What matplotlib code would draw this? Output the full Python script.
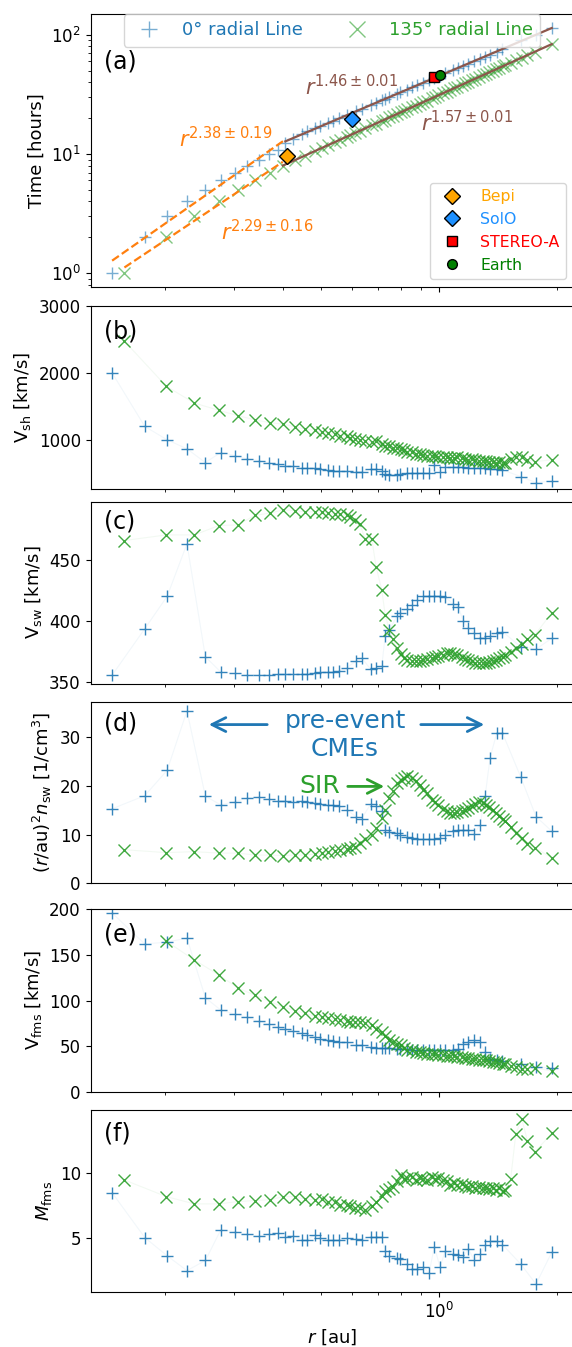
import numpy as np
import matplotlib
matplotlib.use('Agg')
import matplotlib.pyplot as plt

# ---- 0 deg radial line (blue) ----
r_0 = [0.147, 0.178, 0.203, 0.228, 0.254, 0.278, 0.302, 0.325, 0.347, 0.369,
       0.388, 0.406, 0.425, 0.447, 0.462, 0.483, 0.497, 0.522, 0.538, 0.557,
       0.582, 0.614, 0.635, 0.670, 0.691, 0.715, 0.729, 0.747, 0.780, 0.796,
       0.827, 0.852, 0.877, 0.912, 0.943, 0.973, 1.006, 1.036, 1.087, 1.120,
       1.153, 1.187, 1.228, 1.272, 1.310, 1.349, 1.403, 1.450, 1.615, 1.766, 1.937]
t_0 = [1, 2, 3, 4, 5, 6, 7, 8, 9, 10,
       10.8, 12.3, 13.4, 14.6, 15.5, 16.4, 17.1, 18.3, 19.1, 20.0,
       21.3, 22.9, 24.0, 25.9, 27.0, 28.4, 29.1, 30.1, 32.0, 32.9,
       34.7, 36.2, 37.7, 39.8, 41.7, 43.5, 45.6, 47.5, 50.8, 52.9,
       55.1, 57.4, 60.1, 63.1, 65.8, 68.5, 72.4, 75.8, 90.6, 99.6, 113.6]
vsh_0 = [2000, 1200, 1000, 865, 660, 810, 765, 715, 690, 660,
         635, 615, 610, 575, 575, 575, 560, 550, 540, 540,
         540, 525, 525, 560, 560, 540, 490, 475, 475, 490,
         500, 500, 500, 510, 500, 625, 525, 590, 590, 590,
         590, 575, 575, 575, 575, 560, 560, 550, 450, 360, 385]
vsw_0 = [355.7, 393.8, 420.5, 463.7, 370.8, 358.2, 357.1, 356.0, 356.0, 356.0,
         356.3, 356.3, 356.5, 356.8, 357.0, 357.7, 358.0, 358.3, 358.6, 359.4,
         361.8, 367.2, 370.0, 360.4, 361.5, 363.5, 387.7, 392.4, 404.0, 407.0,
         410.0, 413.0, 417.8, 420.5, 421.0, 421.0, 421.0, 420.0, 414.0, 411.8,
         400.0, 394.6, 390.5, 386.3, 386.3, 387.7, 390.5, 391.5, 379.0, 377.0, 386.0]
n_0 = [15.3, 18.0, 23.2, 35.4, 17.9, 16.1, 16.8, 17.5, 17.7, 17.3,
       17.0, 17.0, 16.8, 16.9, 16.7, 16.5, 16.3, 16.1, 16.0, 15.8,
       15.1, 13.7, 13.3, 16.3, 15.8, 14.9, 11.0, 10.6, 10.3, 10.0,
       9.6, 9.3, 9.2, 9.2, 9.2, 9.2, 9.4, 10.0, 10.8, 11.0,
       11.0, 11.0, 10.2, 12.0, 17.9, 25.8, 30.9, 30.9, 21.8, 13.7, 10.7]
vfms_0 = [196, 162, 164, 168.5, 103, 89.5, 85, 81.5, 77, 74,
          71, 68.5, 66.5, 64, 62, 60, 58, 57, 56, 55,
          54, 51, 51, 48.5, 48, 48, 48, 48, 47, 47,
          46.5, 46, 46, 46, 46, 46, 46, 46, 46, 47,
          52, 55, 57, 54, 43, 36, 35, 34, 30, 27, 26]
mfms_0 = [8.5, 5.05, 3.64, 2.5, 3.28, 5.64, 5.5, 5.3, 5.15, 5.35,
          5.38, 5.12, 5.2, 4.87, 4.87, 5.25, 5.0, 4.87, 4.87, 4.87,
          5.0, 4.95, 4.87, 5.12, 5.12, 5.12, 4.02, 3.59, 3.46, 3.4,
          3.0, 2.64, 2.64, 2.77, 2.31, 4.35, 2.74, 4.0, 3.77, 3.67,
          3.55, 4.18, 3.33, 3.77, 4.48, 4.79, 4.79, 4.51, 3.0, 1.46, 3.92]

# ---- 135 deg radial line (green) ----
r_135 = [0.158, 0.202, 0.238, 0.275, 0.308, 0.339, 0.371, 0.400, 0.430, 0.456,
         0.483, 0.503, 0.522, 0.543, 0.560, 0.582, 0.593, 0.611, 0.629, 0.648,
         0.674, 0.691, 0.715, 0.729, 0.747, 0.762, 0.780, 0.799, 0.814, 0.830,
         0.852, 0.872, 0.895, 0.912, 0.930, 0.958, 0.977, 0.996, 1.022, 1.046,
         1.067, 1.092, 1.113, 1.142, 1.165, 1.187, 1.211, 1.235, 1.266, 1.292,
         1.317, 1.343, 1.370, 1.397, 1.424, 1.453, 1.473, 1.522, 1.568, 1.624,
         1.679, 1.756, 1.937]
t_135 = [1, 2, 3, 4, 5, 6, 7, 8, 9, 9.7,
         10.6, 11.2, 11.9, 12.6, 13.2, 14.0, 14.4, 15.0, 15.7, 16.4,
         17.4, 18.0, 19.0, 19.5, 20.3, 20.9, 21.6, 22.4, 23.0, 23.7,
         24.7, 25.5, 26.5, 27.3, 28.1, 29.4, 30.2, 31.1, 32.3, 33.5,
         34.5, 35.7, 36.7, 38.1, 39.3, 40.4, 41.6, 42.9, 44.5, 45.8,
         47.2, 48.6, 50.0, 51.5, 53.0, 54.6, 55.7, 58.5, 61.2, 64.5,
         67.7, 72.4, 83.4]
vsh_135 = [2475, 1800, 1550, 1440, 1360, 1300, 1255, 1235, 1195, 1160,
           1140, 1110, 1100, 1085, 1060, 1050, 1025, 1010, 1000, 985,
           960, 975, 940, 910, 900, 875, 875, 860, 840, 825,
           825, 790, 790, 775, 760, 760, 760, 750, 750, 740,
           735, 725, 740, 735, 720, 700, 710, 700, 690, 685,
           685, 675, 675, 660, 675, 660, 650, 710, 740, 740,
           700, 675, 700]
vsw_135 = [466.4, 471.0, 471.0, 478.7, 479.3, 487.0, 489.0, 491.5, 491.0, 490.0,
           490.0, 490.0, 489.0, 488.0, 488.0, 487.0, 486.0, 483.0, 480.0, 467.6,
           467.6, 445.0, 425.5, 405.5, 393.0, 385.0, 378.0, 373.0, 370.0, 368.5,
           367.5, 367.0, 367.5, 368.5, 369.0, 370.0, 371.0, 371.7, 372.5, 374.0,
           374.0, 373.0, 372.0, 370.5, 369.0, 368.0, 367.0, 366.0, 365.7, 365.7,
           366.0, 366.5, 367.0, 368.0, 369.5, 371.0, 372.0, 375.0, 378.0, 381.5,
           385.0, 389.0, 407.0]
n_135 = [6.9, 6.3, 6.5, 6.2, 6.2, 5.8, 5.8, 5.7, 5.8, 5.8,
         6.0, 6.2, 6.4, 6.7, 6.9, 7.1, 7.2, 7.5, 8.3, 9.0,
         10.0, 11.3, 13.4, 15.0, 17.5, 18.9, 20.6, 21.2, 21.7, 22.0,
         21.6, 21.0, 20.2, 19.2, 18.6, 17.2, 16.6, 16.0, 15.3, 14.8,
         14.5, 14.4, 14.6, 14.9, 15.0, 15.4, 15.8, 16.2, 16.6, 16.4,
         16.0, 15.6, 15.1, 14.5, 13.9, 13.2, 12.8, 11.5, 10.3, 9.3,
         8.1, 7.3, 5.2]
vfms_135 = [np.nan, 165, 144.5, 128, 113.5, 106, 98.7, 93, 88.8, 85.8,
            82.9, 81.4, 80.3, 79.2, 78.5, 77.3, 76.6, 76.6, 75.9, 74.8,
            72.9, 69.2, 65.6, 60.8, 57.1, 54.5, 52.7, 50.8, 48.2, 46.0,
            45.3, 43.5, 43.5, 42.4, 41.6, 40.9, 40.9, 39.8, 39.8, 38.7,
            38.7, 38.7, 37.9, 37.9, 37.2, 37.2, 36.1, 36.1, 35.0, 34.3,
            34.3, 33.5, 32.4, 32.4, 31.3, 30.6, 30.6, 28.7, 26.9, 25.1,
            25.1, 26.2, 22.5]
mfms_135 = [9.48, 8.2, 7.64, 7.64, 7.82, 7.9, 7.95, 8.2, 8.2, 8.0,
            7.95, 8.0, 7.77, 7.77, 7.57, 7.57, 7.44, 7.36, 7.36, 7.18,
            7.44, 7.82, 8.28, 8.64, 8.8, 8.97, 9.41, 9.87, 9.56, 9.66,
            9.74, 9.48, 9.66, 9.56, 9.48, 9.74, 9.56, 9.61, 9.48, 9.41,
            9.1, 9.23, 9.1, 9.15, 9.05, 8.97, 9.05, 8.9, 8.97, 8.85,
            8.9, 8.8, 8.85, 8.72, 8.85, 8.64, 8.72, 9.56, 13.0, 14.2,
            12.5, 11.66, 13.07]

# spacecraft arrivals
sc_names = ['Bepi', 'SolO', 'STEREO-A', 'Earth']
sc_r = [0.409, 0.599, 0.969, 1.005]
sc_t = [9.7, 19.7, 44.1, 46.1]
sc_colors = ['orange', 'dodgerblue', 'red', 'green']
sc_markers = ['D', 'D', 's', 'o']
r_split = 0.41

r_0 = np.array(r_0); t_0 = np.array(t_0)
r_135 = np.array(r_135); t_135 = np.array(t_135)

W, H = 572, 1347
fig = plt.figure(figsize=(W / 100, H / 100), dpi=100)
boxes = [(14.3, 286.7), (306, 489.3), (501.5, 683.5),
         (701.7, 883.3), (909.3, 1091.7), (1110, 1292.3)]
left, right = 90.5, 573.5
axs = []
for top, bot in boxes:
    ax = fig.add_axes([left / W, 1 - bot / H, (right - left) / W, (bot - top) / H],
                      sharex=axs[0] if axs else None)
    axs.append(ax)

c0, c1 = 'tab:blue', 'tab:green'
ms = 8

# (a) arrival time
ax = axs[0]
h0, = ax.plot(r_0, t_0, '+', color=c0, ms=ms, alpha=0.6, label='0° radial Line')
h1, = ax.plot(r_135, t_135, 'x', color=c1, ms=ms, alpha=0.6, label='135° radial Line')


def fit(r, t, mask):
    # power-law fit in log-log space
    p = np.polyfit(np.log10(r[mask]), np.log10(t[mask]), 1)
    rr = np.logspace(np.log10(r[mask].min()), np.log10(r[mask].max()), 50)
    return rr, 10 ** np.polyval(p, np.log10(rr))


for r, t in [(r_0, t_0), (r_135, t_135)]:
    rr, tt = fit(r, t, r <= r_split)
    ax.plot(rr, tt, '--', color='tab:orange', lw=1.6)
    rr, tt = fit(r, t, r >= 0.40)
    ax.plot(rr, tt, '-', color='tab:brown', lw=1.6)

sc_handles = []
for nm, xr, yt, cc, mk in zip(sc_names, sc_r, sc_t, sc_colors, sc_markers):
    h, = ax.plot(xr, yt, mk, color=cc, mec='k', ms=8 if mk == 'D' else 7,
                 label=nm, zorder=5)
    sc_handles.append(h)

ax.text(0.2177, 13.4, r'$r^{2.38\pm0.19}$', color='tab:orange', fontsize=15, va='center')
ax.text(0.2784, 2.23, r'$r^{2.29\pm0.16}$', color='tab:orange', fontsize=15, va='center')
ax.text(0.456, 36.8, r'$r^{1.46\pm0.01}$', color='tab:brown', fontsize=15, va='center')
ax.text(0.90, 18.4, r'$r^{1.57\pm0.01}$', color='tab:brown', fontsize=15, va='center')

ax.set_yscale('log')
ax.set_ylim(0.77, 149)
ax.set_ylabel('Time [hours]', fontsize=13)
leg1 = ax.legend(handles=[h0, h1], ncol=2, loc='upper center',
                 bbox_to_anchor=(0.5, 1.034), fontsize=13, markerscale=1.5,
                 labelcolor='linecolor')
ax.add_artist(leg1)
ax.legend(handles=sc_handles, loc='lower right', fontsize=11.3,
          labelcolor='markerfacecolor')

# (b)-(f)
panels = [
    (vsh_0, vsh_135, 'V$_{\\rm sh}$ [km/s]', (260, 3000), [1000, 2000, 3000]),
    (vsw_0, vsw_135, 'V$_{\\rm sw}$ [km/s]', (348.8, 498.5), [350, 400, 450]),
    (n_0, n_135, '$(r/{\\rm au})^2 n_{\\rm sw}$ [1/cm$^3$]', (0, 37.3), [0, 10, 20, 30]),
    (vfms_0, vfms_135, 'V$_{\\rm fms}$ [km/s]', (0, 200), [0, 50, 100, 150, 200]),
    (mfms_0, mfms_135, '$M_{\\rm fms}$', (0.83, 14.87), [5, 10]),
]
for ax, (y0, y1, lab, lim, ticks) in zip(axs[1:], panels):
    ax.plot(r_0, y0, '-', color=c0, lw=0.8, alpha=0.06)
    ax.plot(r_135, y1, '-', color=c1, lw=0.8, alpha=0.06)
    ax.plot(r_0, y0, '+', color=c0, ms=ms, alpha=0.9)
    ax.plot(r_135, y1, 'x', color=c1, ms=ms, alpha=0.9)
    ax.set_ylim(*lim)
    ax.set_yticks(ticks)
    ax.set_ylabel(lab, fontsize=13)

# annotations in (d)
ax = axs[3]
ax.text(0.576, 30.4, 'pre-event\nCMEs', color=c0, fontsize=18, ha='center', va='center')
arw = dict(arrowstyle='->', color=c0, lw=2, mutation_scale=25)
ax.annotate('', xy=(0.255, 32.6), xytext=(0.371, 32.6), arrowprops=arw)
ax.annotate('', xy=(1.325, 32.6), xytext=(0.884, 32.6), arrowprops=arw)
ax.text(0.497, 19.9, 'SIR', color=c1, fontsize=18, ha='center', va='center')
ax.annotate('', xy=(0.737, 19.9), xytext=(0.576, 19.9),
            arrowprops=dict(arrowstyle='->', color=c1, lw=2, mutation_scale=25))

labels = ['(a)', '(b)', '(c)', '(d)', '(e)', '(f)']
offs = [35.7, 14, 8.5, 10, 13.7, 11.7]
for ax, lb, off, (top, bot) in zip(axs, labels, offs, boxes):
    ax.text(13.5 / (right - left), 1 - off / (bot - top), lb, transform=ax.transAxes,
            fontsize=17, va='top', ha='left')
    ax.tick_params(labelsize=12)
    if ax is not axs[-1]:
        ax.tick_params(labelbottom=False)

axs[0].set_xscale('log')
axs[0].set_xlim(0.1295, 2.2)
axs[-1].set_xlabel('$r$ [au]', fontsize=13)

fig.savefig('out.png', dpi=100)
